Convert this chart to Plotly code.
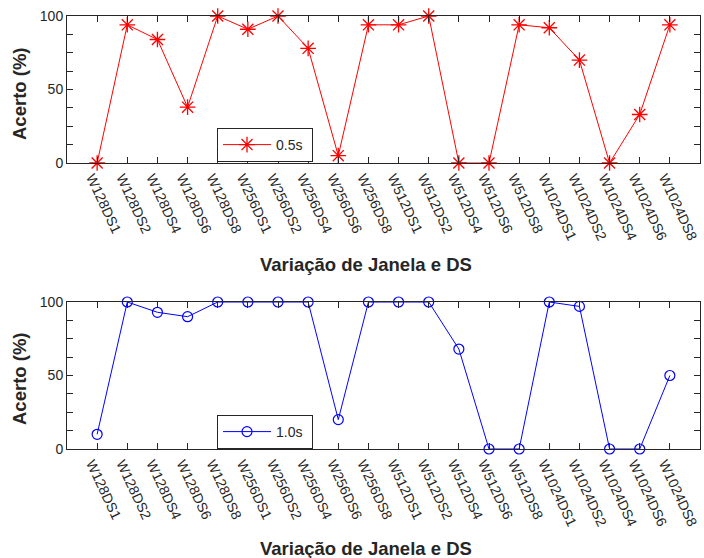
import plotly.graph_objects as go
from plotly.subplots import make_subplots

categories = ["W128DS1", "W128DS2", "W128DS4", "W128DS6", "W128DS8",
              "W256DS1", "W256DS2", "W256DS4", "W256DS6", "W256DS8",
              "W512DS1", "W512DS2", "W512DS4", "W512DS6", "W512DS8",
              "W1024DS1", "W1024DS2", "W1024DS4", "W1024DS6", "W1024DS8"]
acerto_05 = [0, 94, 84, 38, 100, 91, 100, 78, 5, 94,
             94, 100, 0, 0, 94, 92, 70, 0, 33, 94]
acerto_10 = [10, 100, 93, 90, 100, 100, 100, 100, 20, 100,
             100, 100, 68, 0, 0, 100, 97, 0, 0, 50]
y_ticks = [0, 50, 100]

W, H = 704, 558
ML, MR, MT, MB = 67, 4, 16, 109
PW, PH = W - ML - MR, H - MT - MB

def py(pix):
    return (H - MB - pix) / PH

def px(pix):
    return (pix - ML) / PW

AX = "#262626"
FONT = "Liberation Sans, Arial, Helvetica, sans-serif"

fig = make_subplots(rows=2, cols=1)
idx = list(range(1, len(categories) + 1))

fig.add_trace(go.Scatter(x=idx, y=acerto_05, mode="lines+markers", name="0.5s",
                         line=dict(color="#ff0000", width=1),
                         marker=dict(symbol="asterisk-open", size=13,
                                     line=dict(color="#ff0000", width=1.3)),
                         cliponaxis=False, legend="legend"), row=1, col=1)
fig.add_trace(go.Scatter(x=idx, y=acerto_10, mode="lines+markers", name="1.0s",
                         line=dict(color="#0000ff", width=1),
                         marker=dict(symbol="circle-open", size=10,
                                     line=dict(color="#0000ff", width=1.2)),
                         cliponaxis=False, legend="legend2"), row=2, col=1)

xaxis_common = dict(range=[0, 21], tickmode="array", tickvals=idx, ticktext=categories,
                    tickangle=65, ticks="inside", ticklen=6, tickcolor=AX,
                    ticklabeloverflow="allow", ticklabelshift=-5, automargin=False,
                    showline=True, linecolor=AX, linewidth=1, mirror="ticks",
                    showgrid=False, zeroline=False,
                    tickfont=dict(family=FONT, size=14, color=AX))
yaxis_common = dict(range=[0, 100], tickmode="array", tickvals=y_ticks,
                    ticks="inside", ticklen=6, tickcolor=AX, automargin=False,
                    minor=dict(dtick=12.5, tick0=0, ticks="inside", ticklen=6, tickcolor=AX, showgrid=False),
                    showline=True, linecolor=AX, linewidth=1, mirror="ticks",
                    showgrid=False, zeroline=False,
                    tickfont=dict(family=FONT, size=14, color=AX))

leg_common = dict(xanchor="left", yanchor="top", orientation="h",
                  entrywidth=31, entrywidthmode="pixels",
                  bordercolor=AX, borderwidth=1, bgcolor="white",
                  font=dict(family=FONT, size=14, color=AX), itemwidth=48,
                  tracegroupgap=0)

fig.update_layout(
    width=W, height=H,
    margin=dict(l=ML, r=MR, t=MT, b=MB, autoexpand=False),
    paper_bgcolor="white", plot_bgcolor="white",
    xaxis=dict(domain=[0, 1], **xaxis_common),
    xaxis2=dict(domain=[0, 1], **xaxis_common),
    yaxis=dict(domain=[py(163), 1], **yaxis_common),
    yaxis2=dict(domain=[0, py(302)], **yaxis_common),
    legend=dict(x=px(217), y=py(128), **leg_common),
    legend2=dict(x=px(217), y=py(415), **leg_common),
    showlegend=True,
)

ann_font = dict(family=FONT, size=18.5, color=AX)
for ycen in (py(264), py(548)):
    fig.add_annotation(text="<b>Variação de Janela e DS</b>", xref="paper", yref="paper",
                       x=px(365.5), y=ycen, xanchor="center", yanchor="middle",
                       showarrow=False, font=ann_font)
for ycen in (py(93), py(378)):
    fig.add_annotation(text="<b>Acerto (%)</b>", xref="paper", yref="paper",
                       x=px(19), y=ycen, xanchor="center", yanchor="middle",
                       textangle=-90, showarrow=False, font=ann_font)

fig.write_html("out.html")
